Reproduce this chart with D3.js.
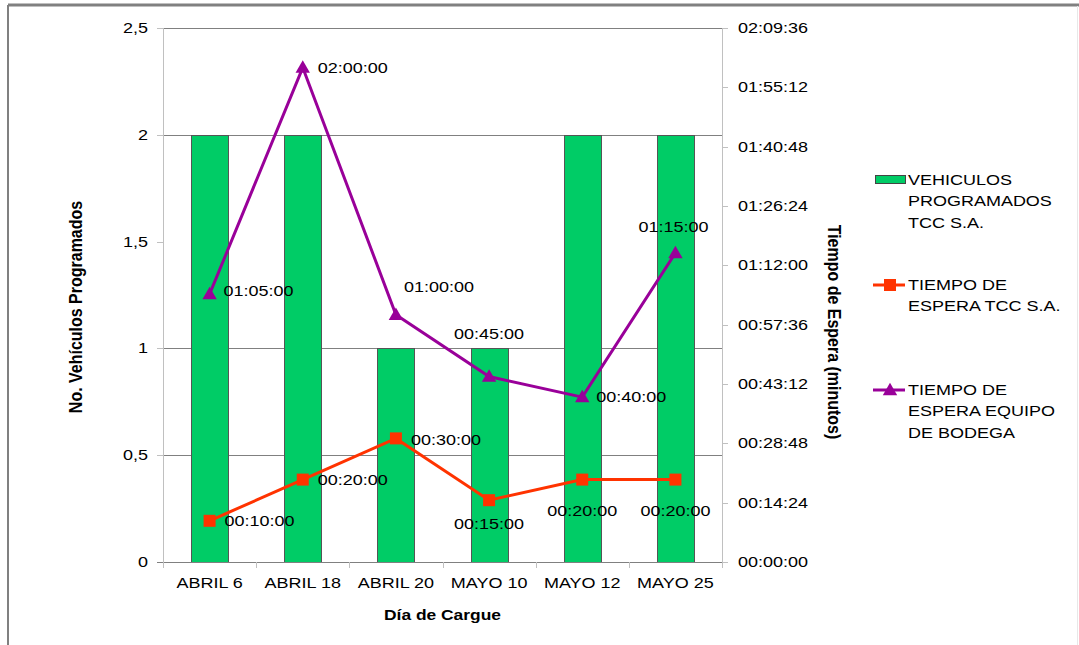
<!DOCTYPE html>
<html>
<head>
<meta charset="utf-8">
<script src="https://cdn.jsdelivr.net/npm/d3@7"></script>
<style>
  body { margin: 0; background: #fff; }
  text { font-family: "Liberation Sans", Arial, sans-serif; fill: #000; }
</style>
</head>
<body>
<div id="chart"></div>
<script>
// data
var categories = ["ABRIL 6", "ABRIL 18", "ABRIL 20", "MAYO 10", "MAYO 12", "MAYO 25"];
var vehiculos = [2, 2, 1, 1, 2, 2];
var esperaTcc = [10, 20, 30, 15, 20, 20];       // minutos
var esperaBodega = [65, 120, 60, 45, 40, 75];   // minutos
var leftTicks = [0, 0.5, 1, 1.5, 2, 2.5];
var rightTicks = [0, 14.4, 28.8, 43.2, 57.6, 72, 86.4, 100.8, 115.2, 129.6];

// label placement per point (layout only)
var tccLabelPos = [[15, 0, "start"], [15, 0, "start"], [15, 2, "start"], [0, 24, "middle"], [0, 31, "middle"], [0, 31, "middle"]];
var bodLabelPos = [[14, -3, "start"], [15, 0, "start"], [8, -28, "start"], [0, -43, "middle"], [14, 0, "start"], [-2, -26, "middle"]];

var W = 1079, H = 645, SX = 1.2;
var m = {left: 163, right: 722, top: 28, bottom: 562};

var svg = d3.select("#chart").append("svg")
    .attr("width", W).attr("height", H);

// outer frame
svg.append("line").attr("x1", 8).attr("x2", W).attr("y1", 5).attr("y2", 5)
    .attr("stroke", "#808080").attr("stroke-width", 3);
svg.append("line").attr("x1", 8).attr("x2", 8).attr("y1", 5).attr("y2", H)
    .attr("stroke", "#808080").attr("stroke-width", 2);
svg.append("line").attr("x1", 1077.5).attr("x2", 1077.5).attr("y1", 6).attr("y2", H)
    .attr("stroke", "#e8e8e8").attr("stroke-width", 1);

// text helper, glyphs stretched a bit horizontally like the picture
function txt(g, x, y, s, anchor, size, weight) {
    return g.append("text")
        .attr("transform", "translate(" + x + "," + y + ") scale(" + SX + ",1)")
        .attr("text-anchor", anchor || "start")
        .attr("dominant-baseline", "central")
        .style("font-size", (size || 15) + "px")
        .style("font-weight", weight || "normal")
        .text(s);
}

var x = d3.scaleBand().domain(categories).range([m.left, m.right])
    .paddingInner(0).paddingOuter(0);
var yL = d3.scaleLinear().domain([0, 2.5]).range([m.bottom, m.top]);
var yR = d3.scaleLinear().domain([0, 129.6]).range([m.bottom, m.top]);

function hms(mins) {
    var s = Math.round(mins * 60);
    var h = Math.floor(s / 3600), mm = Math.floor((s % 3600) / 60), ss = s % 60;
    return d3.format("02")(h) + ":" + d3.format("02")(mm) + ":" + d3.format("02")(ss);
}

// gridlines (the 1,5 line does not show in the picture)
svg.append("g").selectAll("line")
    .data(leftTicks.filter(function(v) { return v > 0 && v !== 1.5; }))
    .enter().append("line")
    .attr("x1", m.left).attr("x2", m.right)
    .attr("y1", function(v) { return Math.round(yL(v)) + 0.5; })
    .attr("y2", function(v) { return Math.round(yL(v)) + 0.5; })
    .attr("stroke", "#808080");

// left axis
var gl = svg.append("g");
gl.append("line").attr("x1", m.left + 0.5).attr("x2", m.left + 0.5)
    .attr("y1", m.top).attr("y2", m.bottom).attr("stroke", "#c0c0c0");
leftTicks.forEach(function(v) {
    var yy = Math.round(yL(v)) + 0.5;
    gl.append("line").attr("x1", m.left - 6).attr("x2", m.left)
        .attr("y1", yy).attr("y2", yy).attr("stroke", "#c0c0c0");
    txt(gl, 148, yL(v), d3.format(",")(v).replace(".", ","), "end", 15);
});

// right axis
var gr = svg.append("g");
gr.append("line").attr("x1", m.right + 0.5).attr("x2", m.right + 0.5)
    .attr("y1", m.top).attr("y2", m.bottom).attr("stroke", "#c0c0c0");
rightTicks.forEach(function(v) {
    var yy = Math.round(yR(v)) + 0.5;
    gr.append("line").attr("x1", m.right).attr("x2", m.right + 6)
        .attr("y1", yy).attr("y2", yy).attr("stroke", "#c0c0c0");
    txt(gr, 738, yR(v), hms(v), "start", 15);
});

// bars
var bw = 37;
svg.append("g").selectAll("rect").data(vehiculos).enter().append("rect")
    .attr("x", function(d, i) { return Math.round(x(categories[i]) + x.bandwidth() / 2 - bw / 2) + 0.5; })
    .attr("y", function(d) { return Math.round(yL(d)) + 0.5; })
    .attr("width", bw)
    .attr("height", function(d) { return m.bottom - Math.round(yL(d)); })
    .attr("fill", "#00cc66")
    .attr("stroke", "#555")
    .attr("stroke-width", 1);

// x axis
var gx = svg.append("g");
gx.append("line").attr("x1", m.left - 6).attr("x2", m.right)
    .attr("y1", m.bottom + 0.5).attr("y2", m.bottom + 0.5).attr("stroke", "#808080");
categories.forEach(function(c, i) {
    var xx = Math.round(x(c)) + 0.5;
    gx.append("line").attr("x1", xx).attr("x2", xx)
        .attr("y1", m.bottom).attr("y2", m.bottom + 6).attr("stroke", "#c0c0c0");
    txt(gx, x(c) + x.bandwidth() / 2, 583, c, "middle", 15);
});
gx.append("line").attr("x1", m.right + 0.5).attr("x2", m.right + 0.5)
    .attr("y1", m.bottom).attr("y2", m.bottom + 6).attr("stroke", "#c0c0c0");

// lines
function cx(i) { return x(categories[i]) + x.bandwidth() / 2; }
var lineGen = d3.line().x(function(d, i) { return cx(i); }).y(function(d) { return yR(d); });

var tri = d3.symbol().type(d3.symbolTriangle).size(90);

svg.append("path").datum(esperaTcc).attr("d", lineGen)
    .attr("fill", "none").attr("stroke", "#ff3300").attr("stroke-width", 3);
svg.append("g").selectAll("rect").data(esperaTcc).enter().append("rect")
    .attr("x", function(d, i) { return cx(i) - 6; })
    .attr("y", function(d) { return yR(d) - 6; })
    .attr("width", 12).attr("height", 12)
    .attr("fill", "#ff3300");

svg.append("path").datum(esperaBodega).attr("d", lineGen)
    .attr("fill", "none").attr("stroke", "#990099").attr("stroke-width", 3);
svg.append("g").selectAll("path").data(esperaBodega).enter().append("path")
    .attr("d", tri)
    .attr("transform", function(d, i) { return "translate(" + cx(i) + "," + (yR(d) + 1) + ")"; })
    .attr("fill", "#990099");

// data labels
var gLab = svg.append("g");
esperaTcc.forEach(function(d, i) {
    var p = tccLabelPos[i];
    txt(gLab, cx(i) + p[0], yR(d) + p[1], hms(d), p[2], 15);
});
esperaBodega.forEach(function(d, i) {
    var p = bodLabelPos[i];
    txt(gLab, cx(i) + p[0], yR(d) + p[1], hms(d), p[2], 15);
});

// axis titles
txt(svg, (m.left + m.right) / 2, 615, "Día de Cargue", "middle", 14.5, "bold");
svg.append("text")
    .attr("transform", "translate(75," + ((m.top + m.bottom) / 2 + 12) + ") rotate(-90) scale(1," + SX + ")")
    .attr("text-anchor", "middle").attr("dominant-baseline", "central")
    .style("font-size", "16px").style("font-weight", "bold")
    .text("No. Vehículos Programados");
svg.append("text")
    .attr("transform", "translate(835," + ((m.top + m.bottom) / 2 + 37) + ") rotate(90) scale(1," + SX + ")")
    .attr("text-anchor", "middle").attr("dominant-baseline", "central")
    .style("font-size", "16px").style("font-weight", "bold")
    .text("Tiempo de Espera (minutos)");

// legend
var lg = svg.append("g");
var legendItems = [
    {lines: ["VEHICULOS", "PROGRAMADOS", "TCC S.A."], y: 180, kind: "bar"},
    {lines: ["TIEMPO DE", "ESPERA TCC S.A."], y: 285, kind: "sq"},
    {lines: ["TIEMPO DE", "ESPERA EQUIPO", "DE BODEGA"], y: 390, kind: "tri"}
];
legendItems.forEach(function(it) {
    if (it.kind === "bar") {
        lg.append("rect").attr("x", 875.5).attr("y", it.y - 4.5).attr("width", 30).attr("height", 8)
            .attr("fill", "#00cc66").attr("stroke", "#444");
    } else {
        var col = it.kind === "sq" ? "#ff3300" : "#990099";
        lg.append("line").attr("x1", 873).attr("x2", 905).attr("y1", it.y).attr("y2", it.y)
            .attr("stroke", col).attr("stroke-width", 3);
        if (it.kind === "sq") {
            lg.append("rect").attr("x", 884).attr("y", it.y - 6).attr("width", 12).attr("height", 12).attr("fill", col);
        } else {
            lg.append("path").attr("d", tri).attr("transform", "translate(890," + (it.y + 1) + ")").attr("fill", col);
        }
    }
    it.lines.forEach(function(s, k) {
        txt(lg, 908, it.y + k * 21.5, s, "start", 15);
    });
});
</script>
</body>
</html>
